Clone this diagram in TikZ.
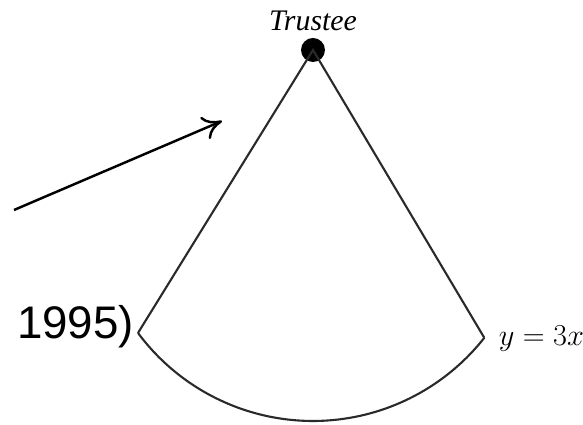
\documentclass[tikz,border=0pt]{standalone}
\usepackage{fontspec}
\setmainfont{Liberation Serif}
\newfontfamily\labelsans{Liberation Sans}
\usetikzlibrary{arrows.meta, positioning, calc}
\definecolor{cline}{HTML}{2A2A2A}
\tikzset{
  every picture/.style={line width=1.1pt},
  edge/.style={draw=cline, line width=1.2pt},
  pointer/.style={-{To[length=3.8mm, width=4.8mm]}, line width=1.4pt},
  tag/.style={font=\fontsize{17}{19}\selectfont\itshape},
  cite/.style={font=\labelsans\fontsize{26}{28}\selectfont, inner sep=0pt},
}

\begin{document}
\begin{tikzpicture}[x=0.02cm, y=0.02cm]
  \useasboundingbox (0,0) rectangle (583,425);
  % sector
  \coordinate (mid) at (313,222);
  \node[circle, fill=black, inner sep=0pt, minimum size=0.48cm] (top) at (313,375) {};
  \coordinate (lc) at ($(mid)+(216.6:218)$);
  \coordinate (rc) at ($(mid)+(321.8:218)$);
  \draw[edge] (lc) -- (top.center) -- (rc);
  \draw[edge] (lc) arc[start angle=216.6, end angle=321.8, radius=218];
  % labels
  \node[tag] (trustee) at (313,404) {Trustee};
  \node[font=\fontsize{16}{18}\selectfont, anchor=west] (rlab) at (492,86) {$y = 3x$};
  \node[cite, anchor=east] (year) at (135,98) {1995)};
  % pointer
  \coordinate (from) at (14,215);
  \coordinate (to) at (222,304);
  \draw[pointer] (from) -- (to);
\end{tikzpicture}
\end{document}
